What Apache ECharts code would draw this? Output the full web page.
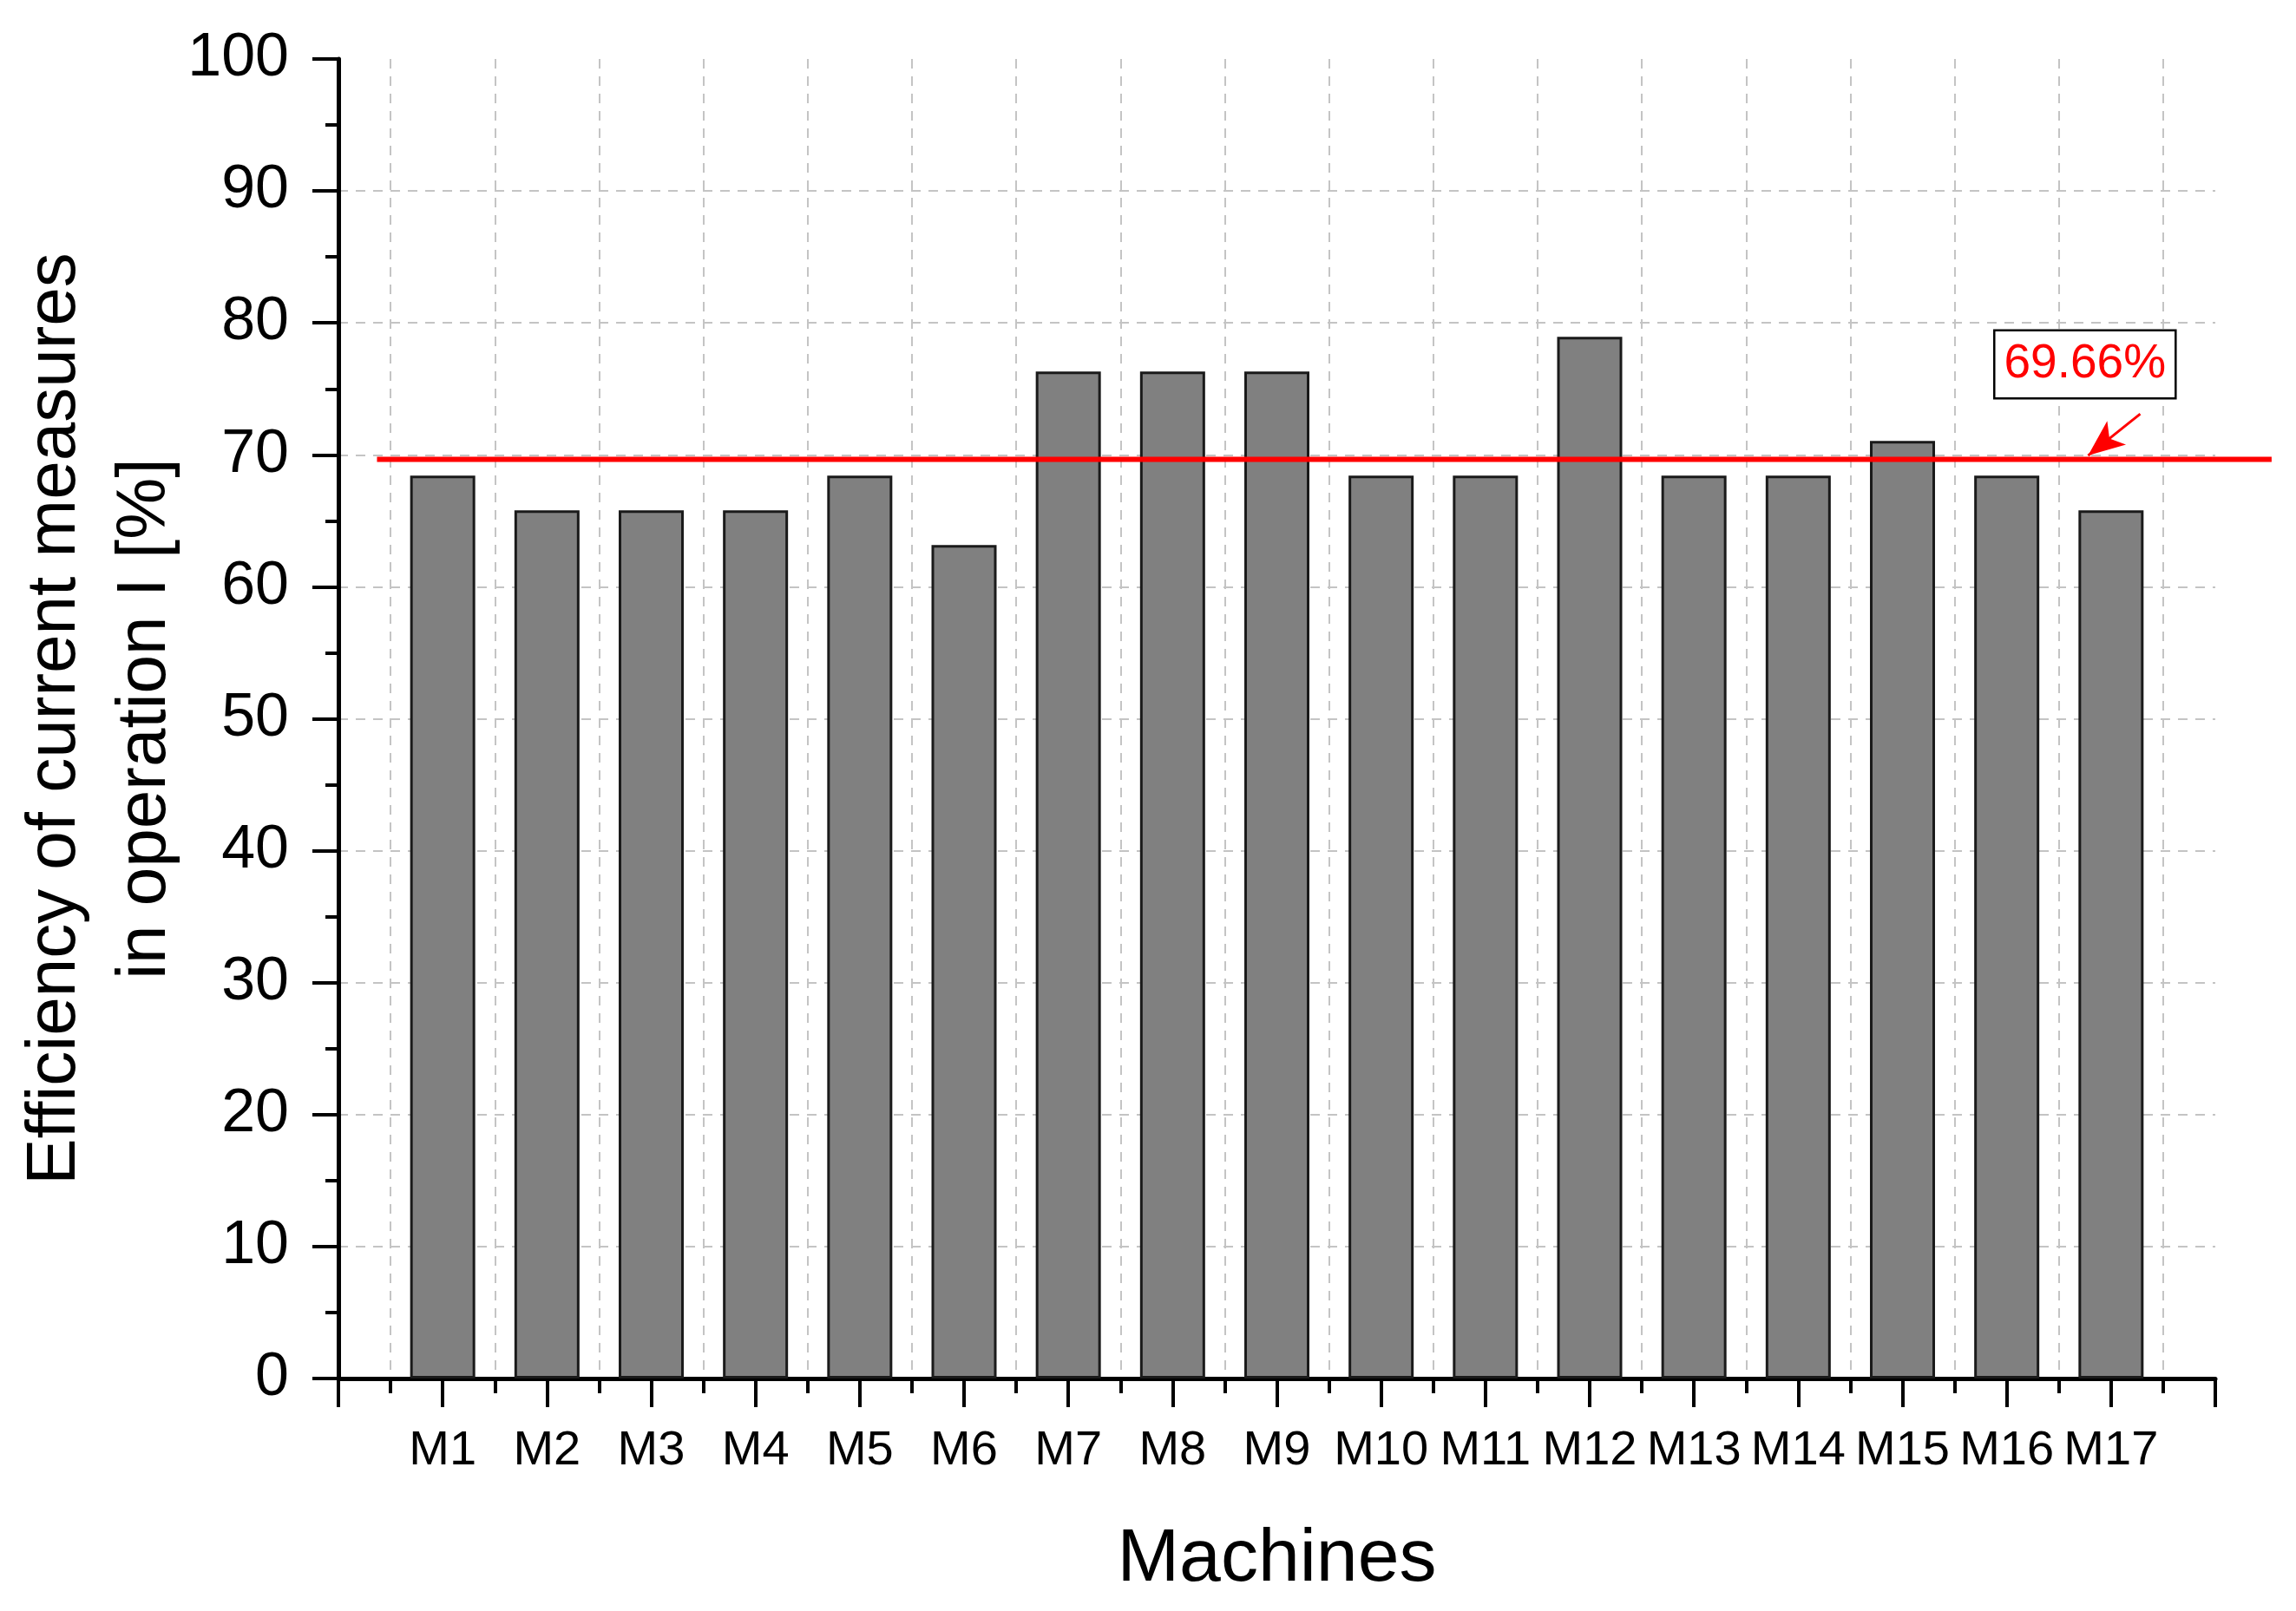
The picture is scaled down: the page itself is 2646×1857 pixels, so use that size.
<!DOCTYPE html>
<html>
<head>
<meta charset="utf-8">
<script src="https://cdn.jsdelivr.net/npm/echarts@6/dist/echarts.min.js"></script>
<style>
  html, body { margin: 0; padding: 0; background: #fff; }
  #chart { width: 2646px; height: 1857px; }
</style>
</head>
<body>
<div id="chart"></div>
<script>
const machines = ['M1', 'M2', 'M3', 'M4', 'M5', 'M6', 'M7', 'M8', 'M9', 'M10',
  'M11', 'M12', 'M13', 'M14', 'M15', 'M16', 'M17']
const efficiency = [68.42, 65.79, 65.79, 65.79, 68.42, 63.16, 76.32, 76.32, 76.32,
  68.42, 68.42, 78.95, 68.42, 68.42, 71.05, 68.42, 65.79]
const averageValue = 69.66
const averageLabel = '69.66%'
const averageLineSpan = [0.37, 18.54]
const arrowFrom = [17.28, 73.1]
const arrowTo = [16.78, 69.95]
const labelAt = [16.75, 76.86]
const yTickValues = [0, 10, 20, 30, 40, 50, 60, 70, 80, 90, 100]

const FONT = "'Liberation Sans', Arial, sans-serif"
const RED = '#ff0000'

// the mean line runs past the right end of the x axis, so it lives on a
// second (hidden) grid with the same scale but a wider extent
const PLOT_LEFT = 390
const PLOT_RIGHT = 93
const UNIT_PX = (2646 - PLOT_LEFT - PLOT_RIGHT) / (machines.length + 1)
const overlayRight = 2646 - PLOT_LEFT - averageLineSpan[1] * UNIT_PX

const chart = echarts.init(document.getElementById('chart'))

chart.setOption({
  animation: false,
  backgroundColor: '#fff',
  textStyle: { fontFamily: FONT },
  grid: [
    { left: PLOT_LEFT, right: PLOT_RIGHT, top: 68, bottom: 268, outerBoundsMode: 'none' },
    { left: PLOT_LEFT, right: overlayRight, top: 68, bottom: 268, outerBoundsMode: 'none' }
  ],
  xAxis: [
    {
      type: 'value',
      gridIndex: 0,
      min: 0,
      max: machines.length + 1,
      interval: 1,
      name: 'Machines',
      nameLocation: 'middle',
      nameGap: 166,
      nameMoveOverlap: false,
      nameTextStyle: { fontFamily: FONT, fontSize: 86, color: '#000' },
      axisLine: { show: true, onZero: false, lineStyle: { color: '#000', width: 5 } },
      axisTick: { show: true, length: 33, lineStyle: { color: '#000', width: 4 } },
      minorTick: { show: true, splitNumber: 2, length: 17, lineStyle: { color: '#000', width: 4 } },
      splitLine: { show: false },
      minorSplitLine: { show: true, lineStyle: { color: '#c4c4c4', width: 2, type: [11, 9] } },
      axisLabel: {
        margin: 56,
        fontFamily: FONT,
        fontSize: 56,
        color: '#000',
        formatter: (v) => machines[v - 1] || ''
      }
    },
    {
      type: 'value',
      gridIndex: 1,
      min: 0,
      max: averageLineSpan[1],
      show: false
    }
  ],
  yAxis: [
    {
      type: 'value',
      gridIndex: 0,
      min: yTickValues[0],
      max: yTickValues[yTickValues.length - 1],
      interval: 10,
      name: 'Efficiency of current measures\nin operation I [%]',
      nameLocation: 'middle',
      nameGap: 170,
      nameMoveOverlap: false,
      nameTextStyle: { fontFamily: FONT, fontSize: 80, lineHeight: 104, color: '#000' },
      axisLine: { show: true, lineStyle: { color: '#000', width: 5 } },
      axisTick: { show: true, length: 30, lineStyle: { color: '#000', width: 4 } },
      minorTick: { show: true, splitNumber: 2, length: 15, lineStyle: { color: '#000', width: 4 } },
      splitLine: {
        show: true,
        showMinLine: false,
        showMaxLine: false,
        lineStyle: { color: '#c4c4c4', width: 2, type: [11, 9] }
      },
      axisLabel: { margin: 57, fontFamily: FONT, fontSize: 70, color: '#000' }
    },
    {
      type: 'value',
      gridIndex: 1,
      min: yTickValues[0],
      max: yTickValues[yTickValues.length - 1],
      show: false
    }
  ],
  series: [
    {
      type: 'bar',
      xAxisIndex: 0,
      yAxisIndex: 0,
      barWidth: 75,
      data: machines.map((m, i) => [i + 1, efficiency[i]]),
      itemStyle: { color: '#808080', borderColor: '#1a1a1a', borderWidth: 3 },
      markLine: {
        silent: true,
        animation: false,
        label: { show: false },
        data: [
          [
            { coord: arrowFrom, symbol: 'none', lineStyle: { color: RED, width: 3, type: 'solid' } },
            { coord: arrowTo, symbol: 'arrow', symbolSize: [26, 42] }
          ]
        ]
      },
      markPoint: {
        silent: true,
        animation: false,
        symbol: 'rect',
        symbolSize: 1,
        itemStyle: { color: 'rgba(0,0,0,0)' },
        data: [{
          coord: labelAt,
          label: {
            show: true,
            position: 'inside',
            formatter: averageLabel,
            fontFamily: FONT,
            fontSize: 55,
            lineHeight: 62,
            color: RED,
            backgroundColor: '#fff',
            borderColor: '#000',
            borderWidth: 2.5,
            padding: [8, 10, 6, 10]
          }
        }]
      }
    },
    {
      type: 'line',
      xAxisIndex: 1,
      yAxisIndex: 1,
      silent: true,
      symbol: 'none',
      z: 3,
      lineStyle: { color: RED, width: 6 },
      data: averageLineSpan.map((x) => [x, averageValue])
    }
  ]
})
</script>
</body>
</html>
